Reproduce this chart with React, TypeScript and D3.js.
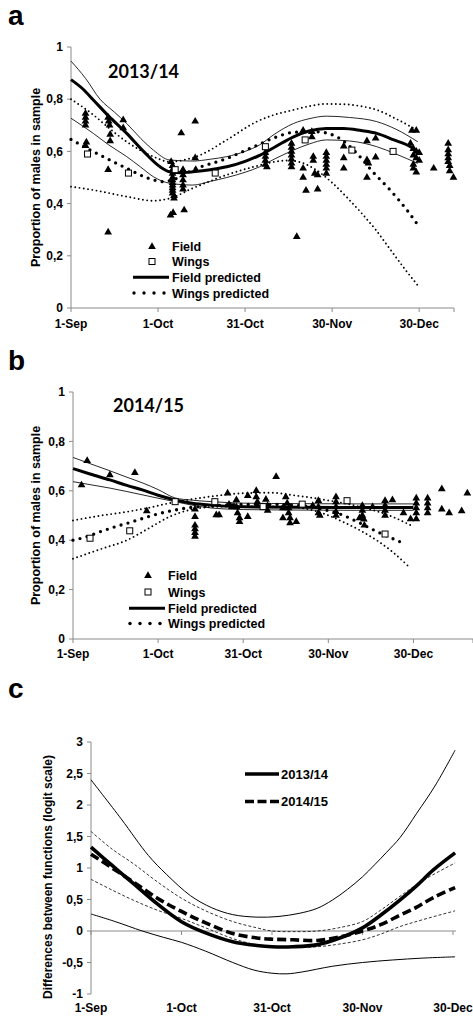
import React from "react";
import * as d3 from "d3";

type P = [number, number];

// ---------- Panel a (2013/14) ----------
const fieldA: P[] = [
  [5, 0.745], [5, 0.73], [5, 0.715], [5, 0.7], [5.3, 0.635], [5, 0.622],
  [12.8, 0.73], [13, 0.715], [13.3, 0.7], [13.5, 0.665], [13.5, 0.64], [12.8, 0.53], [12.8, 0.29],
  [18, 0.72], [18, 0.69],
  [34.5, 0.56], [35, 0.545], [35, 0.53], [35, 0.515], [35, 0.5], [35, 0.49], [35, 0.48], [35, 0.47],
  [35, 0.46], [35, 0.45], [35, 0.44], [35.5, 0.43], [35.5, 0.42], [34.3, 0.355], [35.2, 0.365],
  [38.6, 0.53], [38.6, 0.51], [38.6, 0.49], [38.6, 0.47], [38.6, 0.455], [39, 0.375], [38, 0.67],
  [42.8, 0.715], [42.8, 0.575], [43, 0.53],
  [67, 0.595], [67, 0.58], [67, 0.565], [67, 0.55], [67.5, 0.54],
  [76, 0.63], [76, 0.615], [76, 0.6], [76, 0.585], [76, 0.57], [76, 0.555], [76, 0.54], [77.8, 0.273],
  [80, 0.68], [80, 0.535], [80, 0.5], [81, 0.45],
  [83, 0.675], [83, 0.655], [83.5, 0.58], [83.5, 0.565], [84, 0.515], [85, 0.51], [85, 0.455],
  [88, 0.595], [88, 0.58], [88, 0.565], [88, 0.55], [88, 0.535], [88, 0.515],
  [94, 0.62], [94, 0.575], [94, 0.535],
  [102, 0.64], [102, 0.567], [102.5, 0.555], [102, 0.5], [105, 0.65], [105, 0.578],
  [117.5, 0.68], [119, 0.68],
  [117, 0.63], [118, 0.61], [119, 0.6], [120, 0.595], [118, 0.585], [119, 0.575], [120, 0.565],
  [118, 0.55], [118, 0.535], [119, 0.52], [125, 0.535],
  [130, 0.63], [130, 0.605], [130, 0.59], [130, 0.575], [130, 0.56], [130.5, 0.545], [130.5, 0.525], [131.8, 0.5],
];
const wingsA: P[] = [
  [5.7, 0.59], [19.8, 0.517], [35.9, 0.53], [49.7, 0.517], [67, 0.618], [80.7, 0.644], [96.8, 0.605], [111, 0.6],
];
const fieldPredA: P[] = [
  [0, 0.875], [4, 0.84], [7.7, 0.797], [13, 0.735], [19.2, 0.669], [25, 0.6], [30.7, 0.541], [34, 0.522],
  [38, 0.518], [42, 0.522], [48, 0.53], [53.7, 0.541], [60, 0.562], [65, 0.585], [70, 0.615], [76.7, 0.656],
  [82, 0.678], [88, 0.688], [94, 0.688], [100, 0.68], [105.4, 0.669], [111, 0.645], [117, 0.618], [119.5, 0.599],
];
const fieldUpA: P[] = [
  [0, 0.946], [5, 0.88], [10, 0.8], [15, 0.75], [19.2, 0.707], [24, 0.65], [28.4, 0.605], [34, 0.567],
  [42, 0.563], [48, 0.57], [53.7, 0.58], [60, 0.6], [65, 0.625], [70, 0.665], [76.7, 0.707], [82, 0.725],
  [88, 0.735], [96, 0.73], [105.4, 0.714], [112, 0.685], [119.5, 0.637],
];
const fieldLoA: P[] = [
  [0, 0.727], [7.7, 0.669], [13, 0.625], [19.2, 0.58], [24, 0.54], [28.4, 0.503], [34, 0.478], [42, 0.471],
  [48, 0.485], [53.7, 0.5], [60, 0.52], [65, 0.541], [70, 0.57], [76.7, 0.605], [82, 0.628], [88, 0.644],
  [96, 0.64], [105.4, 0.618], [112, 0.59], [119.5, 0.554],
];
const wingsPredA: P[] = [
  [0, 0.646], [7.7, 0.599], [13.4, 0.567], [19.2, 0.535], [26.7, 0.497], [31.8, 0.484], [36, 0.495],
  [42, 0.529], [53.7, 0.573], [63, 0.618], [71, 0.656], [76.7, 0.673], [84.7, 0.675], [91.6, 0.656],
  [95, 0.63], [98.5, 0.593], [104, 0.522], [110, 0.452], [115.8, 0.375], [119.8, 0.314],
];
const wingsUpA: P[] = [
  [0, 0.8], [7.7, 0.74], [13, 0.69], [19.2, 0.637], [28.4, 0.58], [34, 0.56], [38, 0.565], [44.5, 0.586],
  [53.7, 0.644], [64, 0.714], [70, 0.74], [76.7, 0.759], [82, 0.773], [88, 0.782], [95, 0.78], [100, 0.773],
  [105.4, 0.759], [112, 0.725], [119.2, 0.682],
];
const wingsLoA: P[] = [
  [0, 0.465], [7.7, 0.452], [19.2, 0.427], [28.4, 0.411], [34, 0.42], [42, 0.459], [53.7, 0.51], [63, 0.541],
  [70, 0.56], [75, 0.565], [80, 0.555], [85, 0.525], [90, 0.48], [95, 0.425], [100, 0.365], [105, 0.3],
  [110, 0.225], [115, 0.15], [120, 0.08],
];

// ---------- Panel b (2014/15) ----------
const fieldB: P[] = [
  [3, 0.623], [5, 0.722], [13, 0.664], [21.8, 0.673], [26, 0.518],
  [43, 0.525], [43, 0.495], [43, 0.46], [43, 0.445], [43, 0.43], [43, 0.415],
  [50.5, 0.502], [51.5, 0.502], [54.5, 0.59], [55, 0.545], [56, 0.535], [57.6, 0.563], [57.6, 0.535],
  [58, 0.51], [58.7, 0.49], [58.7, 0.475], [61.6, 0.58], [61.6, 0.495], [64.6, 0.6], [64.6, 0.575],
  [65, 0.555], [65, 0.54], [68, 0.565], [68.6, 0.54], [68.6, 0.52], [71.6, 0.657], [74, 0.53], [74, 0.49],
  [75, 0.575], [75.5, 0.55], [76, 0.53], [76, 0.51], [76.5, 0.49], [76.5, 0.47], [78.7, 0.475],
  [84.5, 0.54], [86.5, 0.56], [86.5, 0.535], [86.5, 0.51], [87, 0.5],
  [92.7, 0.575], [92.7, 0.555], [92.7, 0.535], [92.7, 0.515], [92.7, 0.5],
  [101, 0.49], [102, 0.54], [102, 0.52], [102, 0.5], [102.5, 0.485], [102.7, 0.46], [105.6, 0.535],
  [110, 0.56], [110, 0.54], [110, 0.52], [110, 0.5], [112.6, 0.563], [116.5, 0.51], [119, 0.486],
  [121, 0.486], [121, 0.57], [121, 0.55], [121, 0.53], [121, 0.51],
  [125, 0.57], [125, 0.55], [125, 0.53], [125, 0.51],
  [130, 0.607], [130, 0.525], [132.6, 0.51], [137, 0.518], [139, 0.59],
];
const wingsB: P[] = [
  [6, 0.408], [20, 0.438], [36, 0.556], [50, 0.556], [67, 0.536], [80.8, 0.546], [96.6, 0.56], [110, 0.425],
];
const fieldPredB: P[] = [
  [0, 0.69], [6, 0.668], [13, 0.644], [19, 0.622], [24.7, 0.603], [30, 0.582], [36, 0.563], [42, 0.55],
  [49, 0.542], [60, 0.535], [80, 0.533], [100, 0.532], [120, 0.532],
];
const fieldUpB: P[] = [
  [0, 0.735], [6, 0.71], [13, 0.681], [19, 0.655], [24.7, 0.631], [30, 0.605], [36, 0.571], [42, 0.562],
  [49, 0.556], [60, 0.55], [80, 0.548], [100, 0.547], [120, 0.547],
];
const fieldLoB: P[] = [
  [0, 0.637], [6, 0.625], [13, 0.611], [19, 0.597], [24.7, 0.583], [30, 0.57], [36, 0.556], [42, 0.542],
  [49, 0.53], [60, 0.524], [80, 0.522], [100, 0.521], [120, 0.521],
];
const wingsPredB: P[] = [
  [0, 0.4], [5, 0.415], [9.5, 0.434], [15, 0.455], [21, 0.475], [27, 0.497], [33, 0.515], [40, 0.53],
  [50, 0.54], [60, 0.545], [70, 0.545], [80, 0.54], [88, 0.525], [95, 0.502], [100, 0.476], [106, 0.441],
  [112, 0.41], [117, 0.385],
];
const wingsUpB: P[] = [
  [0, 0.48], [10, 0.5], [19, 0.515], [27, 0.532], [34, 0.55], [48, 0.576], [60, 0.59], [70, 0.592],
  [77, 0.583], [89, 0.563], [101, 0.536], [112.6, 0.495], [119.6, 0.457],
];
const wingsLoB: P[] = [
  [0, 0.325], [10, 0.365], [19, 0.4], [27, 0.45], [34, 0.495], [42, 0.525], [50, 0.535], [60, 0.537],
  [70, 0.537], [77, 0.535], [83, 0.525], [89, 0.505], [95, 0.475], [101, 0.441], [107, 0.4],
  [112.6, 0.353], [118, 0.297],
];

// ---------- Panel c ----------
const diff13: P[] = [
  [0, 1.33], [7, 1.04], [14, 0.757], [22, 0.43], [30, 0.148], [38, -0.03], [47, -0.17], [55, -0.23],
  [60, -0.25], [67, -0.25], [74.8, -0.22], [82, -0.12], [90, 0.05], [96, 0.25], [102.4, 0.49],
  [108, 0.72], [113.5, 0.97], [120.7, 1.24],
];
const diff13Up: P[] = [
  [0, 2.4], [10, 1.78], [19, 1.2], [25, 0.9], [33, 0.56], [40, 0.37], [47, 0.26], [55, 0.22],
  [62, 0.23], [69, 0.28], [75, 0.36], [80, 0.49], [85, 0.66], [90, 0.86], [94, 1.05], [98, 1.25],
  [102.4, 1.48], [108, 1.87], [114, 2.3], [120.7, 2.87],
];
const diff13Lo: P[] = [
  [0, 0.27], [8, 0.15], [17, 0.0], [24, -0.1], [30, -0.18], [38, -0.32], [47, -0.5], [54, -0.62],
  [60, -0.67], [65, -0.68], [70, -0.65], [80, -0.56], [90, -0.5], [100, -0.46], [110, -0.43], [120.7, -0.41],
];
const diff14: P[] = [
  [0, 1.22], [7, 1.0], [14, 0.78], [22, 0.52], [30, 0.31], [38, 0.13], [47, -0.04], [55, -0.11],
  [60, -0.13], [67, -0.14], [75, -0.15], [82, -0.1], [90, 0.0], [96, 0.1], [102.4, 0.25], [108, 0.38],
  [113.5, 0.53], [120.7, 0.69],
];
const diff14Up: P[] = [
  [0, 1.58], [7, 1.3], [14, 1.07], [22, 0.78], [30, 0.52], [38, 0.32], [47, 0.15], [55, 0.05], [60, 0.0],
  [67, -0.01], [75, 0.0], [82, 0.05], [90, 0.15], [96, 0.33], [102.4, 0.55], [110, 0.8], [120.7, 1.08],
];
const diff14Lo: P[] = [
  [0, 0.82], [7, 0.65], [14, 0.49], [22, 0.33], [30, 0.2], [38, 0.05], [47, -0.12], [55, -0.22],
  [60, -0.25], [67, -0.26], [75, -0.25], [82, -0.21], [90, -0.14], [96, -0.05], [102.4, 0.07],
  [110, 0.18], [120.7, 0.32],
];

const dateTicks = [0, 30, 60, 90, 120];
const dateLabels = ["1-Sep", "1-Oct", "31-Oct", "30-Nov", "30-Dec"];
const propTicks = [0, 0.2, 0.4, 0.6, 0.8, 1];
const diffTicks = [-1, -0.5, 0, 0.5, 1, 1.5, 2, 2.5, 3];
const legendLabels = ["Field", "Wings", "Field predicted", "Wings predicted"];
const diffLegend = ["2013/14", "2014/15"];

const FONT = "'Liberation Sans', Arial, Helvetica, sans-serif";
const TITLE_FONT = "Lato, 'Open Sans', sans-serif";
const AXIS = "#8a8a8a";
const fmt = (v: number) => String(v).replace(".", ",");

type PanelProps = {
  letter: string;
  letterY: number;
  title: string;
  titleX: number;
  titleY: number;
  x: d3.ScaleLinear<number, number>;
  y: d3.ScaleLinear<number, number>;
  tickLabelY: number;
  yLabelX: number;
  field: P[];
  wings: P[];
  fieldPred: P[];
  fieldUp: P[];
  fieldLo: P[];
  wingsPred: P[];
  wingsUp: P[];
  wingsLo: P[];
  legendX: number;
  legendYs: number[];
};

function ScatterPanel(p: PanelProps) {
  const { x, y } = p;
  const line = d3
    .line<P>()
    .x((d) => x(d[0]))
    .y((d) => y(d[1]))
    .curve(d3.curveMonotoneX);
  const tri = d3.symbol().type(d3.symbolTriangle).size(26)()!;
  const [x0, x1] = x.range();
  const [y0, y1] = y.range();
  const lx = p.legendX;
  return (
    <g>
      <text x={8} y={p.letterY} fontFamily={FONT} fontWeight="bold" fontSize={28}>
        {p.letter}
      </text>
      <text x={p.titleX} y={p.titleY} fontFamily={TITLE_FONT} fontWeight="bold" fontSize={18}>
        {p.title}
      </text>
      <line x1={x0} x2={x0} y1={y1} y2={y0} stroke={AXIS} strokeWidth={1} />
      <line x1={x0} x2={x1} y1={y0} y2={y0} stroke={AXIS} strokeWidth={1} />
      {propTicks.map((t) => (
        <g key={"yt" + t}>
          <line x1={x0 - 4} x2={x0} y1={y(t)} y2={y(t)} stroke={AXIS} />
          <text x={x0 - 8} y={y(t)} dy="0.35em" textAnchor="end" fontFamily={FONT} fontWeight="bold" fontSize={12}>
            {fmt(t)}
          </text>
        </g>
      ))}
      {dateTicks.map((t, i) => (
        <g key={"xt" + t}>
          <line x1={x(t)} x2={x(t)} y1={y0} y2={y0 + 4} stroke={AXIS} />
          <text x={x(t)} y={p.tickLabelY} textAnchor="middle" fontFamily={FONT} fontWeight="bold" fontSize={12}>
            {dateLabels[i]}
          </text>
        </g>
      ))}
      <line x1={x1} x2={x1} y1={y0} y2={y0 + 4} stroke={AXIS} />
      <text
        transform={`translate(${p.yLabelX},${(y0 + y1) / 2}) rotate(-90)`}
        textAnchor="middle"
        fontFamily={FONT}
        fontWeight="bold"
        fontSize={12.5}
      >
        Proportion of males in sample
      </text>
      <path d={line(p.fieldUp)!} fill="none" stroke="#111" strokeWidth={0.9} />
      <path d={line(p.fieldLo)!} fill="none" stroke="#111" strokeWidth={0.9} />
      <path d={line(p.wingsUp)!} fill="none" stroke="#000" strokeWidth={1.9} strokeDasharray="0 4.3" strokeLinecap="round" />
      <path d={line(p.wingsLo)!} fill="none" stroke="#000" strokeWidth={1.9} strokeDasharray="0 4.3" strokeLinecap="round" />
      <path d={line(p.wingsPred)!} fill="none" stroke="#000" strokeWidth={3.3} strokeDasharray="0 7.2" strokeLinecap="round" />
      <path d={line(p.fieldPred)!} fill="none" stroke="#000" strokeWidth={3} />
      {p.field.map((d, i) => (
        <path key={"f" + i} d={tri} transform={`translate(${x(d[0])},${y(d[1])})`} fill="#000" />
      ))}
      {p.wings.map((d, i) => (
        <rect key={"w" + i} x={x(d[0]) - 3} y={y(d[1]) - 3} width={6} height={6} fill="#fff" stroke="#000" strokeWidth={1} />
      ))}
      <path d={tri} transform={`translate(${lx - 20},${p.legendYs[0]})`} fill="#000" />
      <rect x={lx - 23} y={p.legendYs[1] - 3} width={6} height={6} fill="#fff" stroke="#000" strokeWidth={1} />
      <line x1={lx - 39} x2={lx - 3} y1={p.legendYs[2]} y2={p.legendYs[2]} stroke="#000" strokeWidth={3} />
      {[0, 1, 2, 3].map((k) => (
        <circle key={"ld" + k} cx={lx - 38 + k * 10} cy={p.legendYs[3]} r={1.7} fill="#000" />
      ))}
      {legendLabels.map((s, i) => (
        <text key={"lt" + i} x={lx} y={p.legendYs[i]} dy="0.36em" fontFamily={FONT} fontWeight="bold" fontSize={12.5}>
          {s}
        </text>
      ))}
    </g>
  );
}

export default function App() {
  const xA = d3.scaleLinear().domain([0, 132]).range([71, 454]);
  const yA = d3.scaleLinear().domain([0, 1]).range([308, 47]);
  const xB = d3.scaleLinear().domain([0, 141]).range([73, 473]);
  const yB = d3.scaleLinear().domain([0, 1]).range([639, 392]);
  const xC = d3.scaleLinear().domain([0, 121]).range([91, 456]);
  const yC = d3.scaleLinear().domain([-1, 3]).range([994, 742]);
  const lineC = d3
    .line<P>()
    .x((d) => xC(d[0]))
    .y((d) => yC(d[1]))
    .curve(d3.curveCatmullRom.alpha(0.5));

  return (
    <svg
      width={473}
      height={1018}
      style={{ position: "absolute", left: 0, top: 0, background: "#fff" }}
    >
      <rect width={473} height={1018} fill="#fff" />
      <ScatterPanel
        letter="a"
        letterY={25}
        title="2013/14"
        titleX={108}
        titleY={78}
        x={xA}
        y={yA}
        tickLabelY={328}
        yLabelX={40}
        field={fieldA}
        wings={wingsA}
        fieldPred={fieldPredA}
        fieldUp={fieldUpA}
        fieldLo={fieldLoA}
        wingsPred={wingsPredA}
        wingsUp={wingsUpA}
        wingsLo={wingsLoA}
        legendX={172}
        legendYs={[246.7, 261.5, 277.3, 293]}
      />
      <ScatterPanel
        letter="b"
        letterY={370}
        title="2014/15"
        titleX={113}
        titleY={412}
        x={xB}
        y={yB}
        tickLabelY={658}
        yLabelX={40}
        field={fieldB}
        wings={wingsB}
        fieldPred={fieldPredB}
        fieldUp={fieldUpB}
        fieldLo={fieldLoB}
        wingsPred={wingsPredB}
        wingsUp={wingsUpB}
        wingsLo={wingsLoB}
        legendX={168}
        legendYs={[575.7, 592, 608.3, 623.5]}
      />
      <g>
        <text x={8} y={698} fontFamily={FONT} fontWeight="bold" fontSize={28}>
          c
        </text>
        <line x1={91} x2={91} y1={742} y2={994} stroke={AXIS} />
        <line x1={91} x2={456} y1={yC(0)} y2={yC(0)} stroke={AXIS} />
        {diffTicks.map((t) => (
          <g key={"ct" + t}>
            <line x1={87} x2={91} y1={yC(t)} y2={yC(t)} stroke={AXIS} />
            <text x={83} y={yC(t)} dy="0.35em" textAnchor="end" fontFamily={FONT} fontWeight="bold" fontSize={12}>
              {fmt(t)}
            </text>
          </g>
        ))}
        {dateTicks.map((t, i) => (
          <g key={"cx" + t}>
            <line x1={xC(t)} x2={xC(t)} y1={yC(0)} y2={yC(0) + 4} stroke={AXIS} />
            <text x={xC(t)} y={1012} textAnchor="middle" fontFamily={FONT} fontWeight="bold" fontSize={12}>
              {dateLabels[i]}
            </text>
          </g>
        ))}
        <text
          transform="translate(52,877) rotate(-90)"
          textAnchor="middle"
          fontFamily={FONT}
          fontWeight="bold"
          fontSize={12}
        >
          Differences between functions (logit scale)
        </text>
        <path d={lineC(diff13Up)!} fill="none" stroke="#000" strokeWidth={1} />
        <path d={lineC(diff13Lo)!} fill="none" stroke="#000" strokeWidth={1} />
        <path d={lineC(diff14Up)!} fill="none" stroke="#000" strokeWidth={0.8} strokeDasharray="3 2" />
        <path d={lineC(diff14Lo)!} fill="none" stroke="#000" strokeWidth={0.8} strokeDasharray="3 2" />
        <path d={lineC(diff13)!} fill="none" stroke="#000" strokeWidth={3.6} />
        <path d={lineC(diff14)!} fill="none" stroke="#000" strokeWidth={3.6} strokeDasharray="9 4" />
        <line x1={245} x2={279} y1={774} y2={774} stroke="#000" strokeWidth={3.6} />
        <line x1={245} x2={279} y1={801.5} y2={801.5} stroke="#000" strokeWidth={3.6} strokeDasharray="9 3.5" />
        {diffLegend.map((s, i) => (
          <text key={s} x={281} y={774 + i * 27.5} dy="0.36em" fontFamily={FONT} fontWeight="bold" fontSize={13}>
            {s}
          </text>
        ))}
      </g>
    </svg>
  );
}
